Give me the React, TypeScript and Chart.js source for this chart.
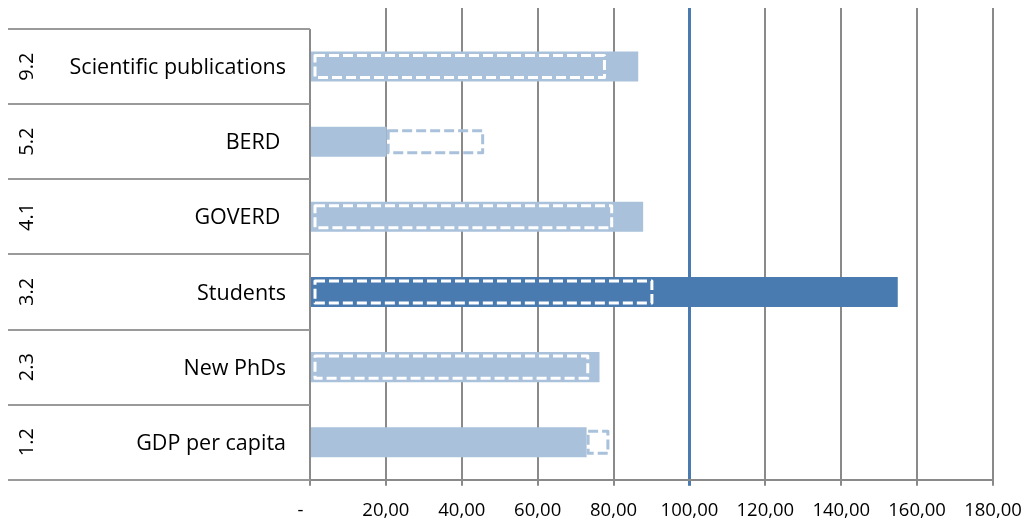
import React, { useEffect, useRef } from 'react';
import { Chart, registerables } from 'chart.js';

Chart.register(...registerables);

// ---- data ----
const codes = ['9.2', '5.2', '4.1', '3.2', '2.3', '1.2'];
const categories = ['Scientific publications', 'BERD ', 'GOVERD ', 'Students', 'New PhDs', 'GDP per capita'];
const actualValues = [86.5, 20.2, 87.8, 154.9, 76.3, 72.9];
const referenceValues = [78.0, 45.9, 79.9, 90.5, 73.6, 78.9];
const highlightCategory = 'Students';
const referenceLine = 100;
const xMin = 0;
const xMax = 180;
const xStep = 20;

// ---- styles ----
const LIGHT = '#a9c1da';
const DARK = '#4a7bb0';
const GRID = '#8a8a8a';
const TABLE_LINE = '#9a9a9a';
const FONT = '"Open Sans", Lato, sans-serif';

const fmtTick = (v: number) => (v === 0 ? '-    ' : v.toFixed(2).replace('.', ','));

const alignPx = (p: number, w: number) => Math.round(p - w / 2) + w / 2;

const tablePlugin = {
  id: 'tableAndDashes',
  beforeDatasetsDraw(chart: any) {
    const { ctx, chartArea, scales } = chart;
    const x = scales.x;
    ctx.save();
    x.ticks.forEach((t: any) => {
      if (t.value <= xMin) return;
      const w = t.value === referenceLine ? 3 : 2;
      const px = alignPx(x.getPixelForValue(t.value), w);
      ctx.beginPath();
      ctx.strokeStyle = t.value === referenceLine ? DARK : GRID;
      ctx.lineWidth = w;
      ctx.moveTo(px, 8);
      ctx.lineTo(px, chartArea.top + 1);
      ctx.stroke();
    });
    ctx.restore();
  },
  afterDatasetsDraw(chart: any) {
    const { ctx } = chart;
    const meta = chart.getDatasetMeta(1);
    ctx.save();
    meta.data.forEach((el: any, i: number) => {
      const p = el.getProps(['x', 'y', 'base', 'height'], true);
      const outside = referenceValues[i] > actualValues[i];
      const left = Math.min(p.x, p.base) + (outside ? 1.5 : 4);
      const right = Math.max(p.x, p.base) - 1.5;
      const top = p.y - p.height / 2 + 4;
      const bottom = p.y + p.height / 2 - 4;
      ctx.beginPath();
      ctx.lineWidth = 3;
      ctx.lineJoin = 'round';
      ctx.setLineDash([10, 4]);
      ctx.strokeStyle = outside ? LIGHT : '#ffffff';
      ctx.rect(left, top, right - left, bottom - top);
      ctx.stroke();
    });
    ctx.restore();
  },
  afterDraw(chart: any) {
    const { ctx, chartArea, scales } = chart;
    const y = scales.y;
    const tableLeft = 8;
    const half = (y.getPixelForValue(1) - y.getPixelForValue(0)) / 2;
    ctx.save();
    ctx.strokeStyle = TABLE_LINE;
    ctx.lineWidth = 2;
    for (let i = 0; i <= categories.length; i++) {
      const yy = Math.round(y.getPixelForValue(i) - half);
      ctx.beginPath();
      ctx.moveTo(tableLeft, yy);
      ctx.lineTo(chartArea.left, yy);
      ctx.stroke();
    }
    ctx.fillStyle = '#000';
    ctx.font = `21.5px ${FONT}`;
    categories.forEach((c, i) => {
      const cy = y.getPixelForValue(i);
      ctx.textAlign = 'right';
      ctx.textBaseline = 'middle';
      ctx.fillText(c, chartArea.left - 24, cy + 1.5);
      ctx.save();
      ctx.translate(27, cy);
      ctx.rotate(-Math.PI / 2);
      ctx.textAlign = 'center';
      ctx.textBaseline = 'middle';
      ctx.font = `20px ${FONT}`;
      ctx.fillText(codes[i], 0, 0);
      ctx.restore();
    });
    ctx.restore();
  },
};

export default function App() {
  const ref = useRef<HTMLCanvasElement>(null);
  useEffect(() => {
    if (!ref.current) return;
    const dashedData = referenceValues.map((r, i) =>
      r > actualValues[i] ? [actualValues[i], r] : [0, r]
    );
    const chart = new Chart(ref.current, {
      type: 'bar',
      data: {
        labels: categories,
        datasets: [
          {
            label: 'Actual',
            data: actualValues,
            backgroundColor: categories.map((c) => (c === highlightCategory ? DARK : LIGHT)),
            borderWidth: 0,
          },
          {
            label: 'Reference',
            data: dashedData as any,
            backgroundColor: 'rgba(0,0,0,0)',
            borderWidth: 0,
          },
        ],
      },
      options: {
        indexAxis: 'y',
        animation: false,
        responsive: true,
        maintainAspectRatio: false,
        layout: { padding: { left: 310, top: 29, right: 34, bottom: -14 } },
        datasets: { bar: { grouped: false, barPercentage: 0.4, categoryPercentage: 1 } },
        plugins: { legend: { display: false }, tooltip: { enabled: false }, title: { display: false } },
        scales: {
          x: {
            min: xMin,
            max: xMax,
            afterFit: (s: any) => {
              s.paddingLeft = 0;
              s.paddingRight = 0;
            },
            ticks: {
              stepSize: xStep,
              color: '#000',
              font: { family: FONT, size: 18.5 },
              padding: 14,
              maxRotation: 0,
              autoSkip: false,
              callback: (v: any) => fmtTick(Number(v)),
            },
            grid: {
              color: (c: any) => (c.tick && c.tick.value === referenceLine ? DARK : GRID),
              lineWidth: (c: any) => (c.tick && c.tick.value === referenceLine ? 3 : 2),
              tickLength: 6,
              drawTicks: true,
            },
            border: { display: true, color: GRID, width: 2 },
          },
          y: {
            display: false,
            offset: true,
          },
        },
      },
      plugins: [tablePlugin],
    });
    return () => chart.destroy();
  }, []);
  return (
    <div style={{ position: 'absolute', left: 0, top: 0, width: 1027, height: 522 }}>
      <canvas ref={ref} />
    </div>
  );
}
